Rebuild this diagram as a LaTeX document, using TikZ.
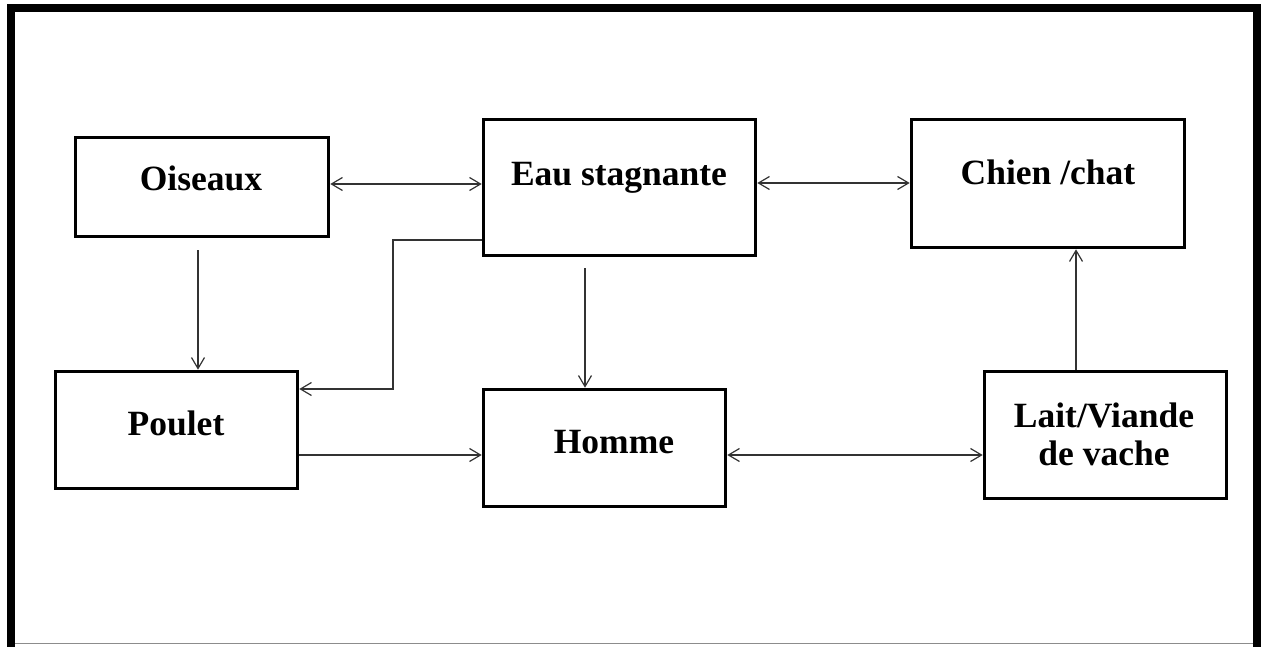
\documentclass[tikz,border=0pt]{standalone}
\usepackage{fontspec}
\setmainfont{Liberation Serif}
\usetikzlibrary{arrows.meta}
\begin{document}
\begin{tikzpicture}[x=0.5pt,y=-0.5pt,
  box/.style={draw=black,line width=1.8pt,rectangle,inner sep=0pt,fill=white},
  lbl/.style={font=\bfseries\fontsize{17.75}{19}\selectfont,inner sep=0pt,anchor=base,align=center},
  arr/.style={draw=black!80,line width=0.6pt,-{Straight Barb[length=5.5pt,width=6.5pt]}},
  biarr/.style={draw=black!80,line width=0.6pt,{Straight Barb[length=5.5pt,width=6.5pt]}-{Straight Barb[length=5.5pt,width=6.5pt]}}]
\useasboundingbox (0,0) rectangle (1261,647);
% outer frame
\fill[black] (7,4) rectangle (15,647);
\fill[black] (7,4) rectangle (1261,12);
\fill[black] (1253,4) rectangle (1261,647);
\draw[black!45,line width=0.5pt] (15,643.5) -- (1253,643.5);

% boxes
\node[box,minimum width=126.5pt,minimum height=49.5pt] (oiseaux) at (202,187) {};
\node[box,minimum width=136pt,minimum height=68pt] (eau) at (619.5,187.5) {};
\node[box,minimum width=136.5pt,minimum height=64pt] (chien) at (1048,183.5) {};
\node[box,minimum width=121pt,minimum height=58.5pt] (poulet) at (176.5,430) {};
\node[box,minimum width=121pt,minimum height=58.5pt] (homme) at (604.5,448) {};
\node[box,minimum width=121pt,minimum height=63.5pt] (lait) at (1105.5,435) {};

% labels (the two-line label is placed by the baseline of its last line)
\node[lbl] (toiseaux) at (201,190) {Oiseaux};
\node[lbl] (teau) at (619,185) {Eau stagnante};
\node[lbl] (tchien) at (1048,184) {Chien /chat};
\node[lbl] (tpoulet) at (176,435) {Poulet};
\node[lbl] (thomme) at (614,453) {Homme};
\node[lbl] (tlait) at (1104,465) {Lait/Viande\\de vache};

% connectors
\coordinate (h1) at (0,184);
\coordinate (h2) at (0,183);
\coordinate (h3) at (0,455);
\coordinate (v1) at (198,0);
\coordinate (v2) at (585,0);
\coordinate (v3) at (1076,0);
\coordinate (k1) at (393,240);
\coordinate (k2) at (393,389);

\draw[biarr] (oiseaux.east |- h1) -- (eau.west |- h1);
\draw[biarr] (eau.east |- h2) -- (chien.west |- h2);
\draw[arr] ([yshift=-6pt]oiseaux.south -| v1) -- (poulet.north -| v1);
\draw[arr] (k1 -| eau.west) -- (k1) -- (k2) -- (k2 -| poulet.east);
\draw[arr] ([yshift=-5.5pt]eau.south -| v2) -- (homme.north -| v2);
\draw[arr] (poulet.east |- h3) -- (homme.west |- h3);
\draw[biarr] (homme.east |- h3) -- (lait.west |- h3);
\draw[arr] (lait.north -| v3) -- (chien.south -| v3);
\end{tikzpicture}
\end{document}
